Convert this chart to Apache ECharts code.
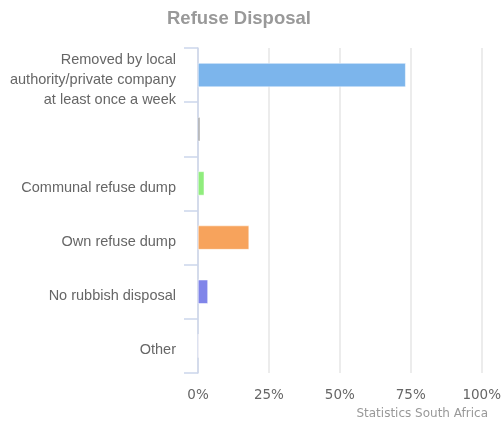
<!DOCTYPE html>
<html>
<head>
<meta charset="utf-8">
<script src="https://cdn.jsdelivr.net/npm/echarts@6/dist/echarts.min.js"></script>
<style>html,body{margin:0;padding:0;background:#fff}#c{width:504px;height:421px}</style>
</head>
<body>
<div id="c"></div>
<script>
var categories = [
  "Removed by local\nauthority/private company\nat least once a week",
  "",
  "Communal refuse dump",
  "Own refuse dump",
  "No rubbish disposal",
  "Other"
];
var values = [73.2, 0.7, 2.2, 18.0, 3.5, 0.2];
var colors = ["#7cb5ec", "#77777a", "#90ed7d", "#f7a35c", "#8085e9", "#f15c80"];
var xTicks = [0, 25, 50, 75, 100];

var chart = echarts.init(document.getElementById('c'), null, {renderer: 'canvas'});
chart.setOption({
  animation: false,
  title: {
    text: 'Refuse Disposal',
    left: 162, top: 4,
    textStyle: {fontFamily: 'Liberation Sans', fontSize: 18.5, fontWeight: 'bold', color: '#999999'}
  },
  grid: {left: 198, right: 22, top: 48, bottom: 48, containLabel: false},
  xAxis: {
    type: 'value', min: xTicks[0], max: xTicks[xTicks.length - 1], interval: 25,
    axisLine: {show: false}, axisTick: {show: false},
    splitLine: {show: true, lineStyle: {color: '#e6e6e6', width: 1.5}},
    axisLabel: {formatter: '{value}%', color: '#666666', fontFamily: 'DejaVu Sans', fontSize: 13.5, margin: 15}
  },
  yAxis: {
    type: 'category', inverse: true, data: categories,
    axisLine: {show: true, lineStyle: {color: '#ccd6eb', width: 1.5}},
    axisTick: {show: true, length: 14, lineStyle: {color: '#ccd6eb', width: 1.5}},
    axisLabel: {
      color: '#666666', fontFamily: 'Liberation Sans', fontSize: 14.5, margin: 22, align: 'right',
      formatter: function (v) {
        if (!v) return '';
        return '{s| }\n' + v.split('\n').map(function (l) { return '{n|' + l + '}'; }).join('\n');
      },
      rich: {
        s: {fontSize: 6, lineHeight: 9},
        n: {fontFamily: 'Liberation Sans', fontSize: 14.5, color: '#666666', lineHeight: 20}
      }
    },
    splitLine: {show: false}
  },
  series: [{
    type: 'bar', barWidth: 24,
    data: values.map(function (v, i) { return {value: v, itemStyle: {color: colors[i]}}; }),
    itemStyle: {borderColor: '#ffffff', borderWidth: 0.5}
  }],
  graphic: [{
    type: 'text', right: 16, bottom: 1,
    style: {text: 'Statistics South Africa', fill: '#999999', font: '12px "DejaVu Sans"'}
  }]
});
</script>
</body>
</html>
